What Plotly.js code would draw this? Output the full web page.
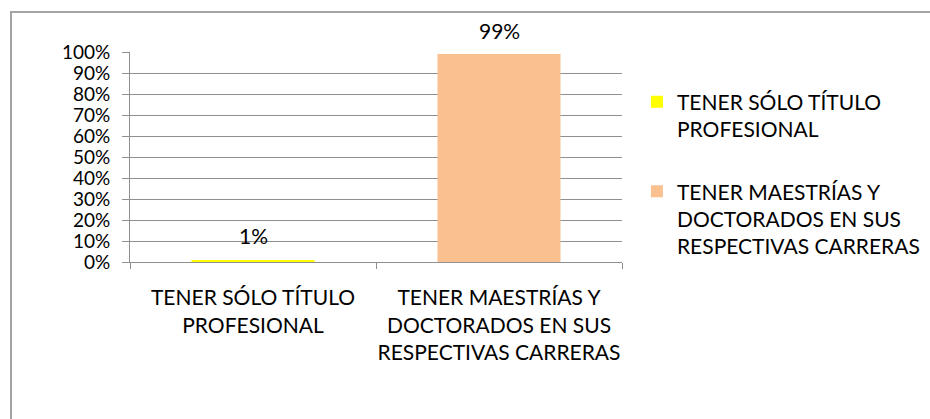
<!DOCTYPE html>
<html><head><meta charset="utf-8">
<script src="https://cdn.plot.ly/plotly-3.0.1.min.js"></script>
<style>
html,body{margin:0;padding:0;background:#fff;}
#wrap{position:relative;width:930px;height:419px;overflow:hidden;}
#chart{position:absolute;left:0;top:0;width:930px;height:419px;}
#frame{position:absolute;left:10px;top:11px;width:940px;height:430px;border-top:2px solid #a3a3a3;border-left:2px solid #a3a3a3;pointer-events:none;}
</style></head><body>
<div id="wrap"><div id="chart"></div><div id="frame"></div></div>
<script>
const categories = ["TENER SÓLO TÍTULO<br>PROFESIONAL", "TENER MAESTRÍAS Y<br>DOCTORADOS EN SUS<br>RESPECTIVAS CARRERAS"];
const values = [0.01, 0.99];
const valueLabels = ["1%", "99%"];
const colors = ["#FFFF00", "#FAC090"];

const FONT = "Lato, 'Open Sans', sans-serif";
const fs = 21;
const grid = "#8f8f8f";

const traces = categories.map((c, i) => ({
  type: 'bar',
  x: [c],
  y: [values[i]],
  name: c,
  width: 0.5,
  marker: {color: colors[i]},
  legendgroup: 'g' + i,
  hoverinfo: 'skip'
}));

const annotations = categories.map((c, i) => ({
  x: c, y: values[i], xref: 'x', yref: 'y',
  text: valueLabels[i], showarrow: false,
  yanchor: 'middle', yshift: 24,
  font: {family: FONT, size: fs, color: '#000'}
}));

const layout = {
  width: 930, height: 419,
  margin: {l: 130, r: 308, t: 52, b: 157, pad: 0, autoexpand: false},
  paper_bgcolor: 'rgba(0,0,0,0)', plot_bgcolor: 'rgba(0,0,0,0)',
  barmode: 'overlay',
  font: {family: FONT, size: fs, color: '#000'},
  xaxis: {
    type: 'category', categoryorder: 'array', categoryarray: categories,
    range: [-0.5, 1.5], showline: true, linecolor: grid, linewidth: 1,
    ticks: 'outside', tickson: 'boundaries', ticklen: 6, tickcolor: grid,
    showgrid: false, ticklabelstandoff: 17, tickangle: 0, automargin: false,
    tickfont: {family: FONT, size: fs, color: '#000'}
  },
  yaxis: {
    range: [0, 1], dtick: 0.1, tick0: 0, tickformat: '.0%',
    showline: true, linecolor: grid, linewidth: 1,
    ticks: 'outside', ticklen: 7, tickcolor: grid,
    showgrid: true, gridcolor: grid, gridwidth: 1, zeroline: false,
    ticklabelstandoff: 8, automargin: false,
    tickfont: {family: FONT, size: 19, color: '#000'}
  },
  showlegend: true,
  legend: {
    x: 1.0304, y: 0.859, xanchor: 'left', yanchor: 'top', valign: 'top',
    tracegroupgap: 32, bgcolor: 'rgba(0,0,0,0)',
    font: {family: FONT, size: fs, color: '#000'}
  },
  annotations: annotations
};

Plotly.newPlot('chart', traces, layout, {displayModeBar: false, staticPlot: true});
</script>
</body></html>
